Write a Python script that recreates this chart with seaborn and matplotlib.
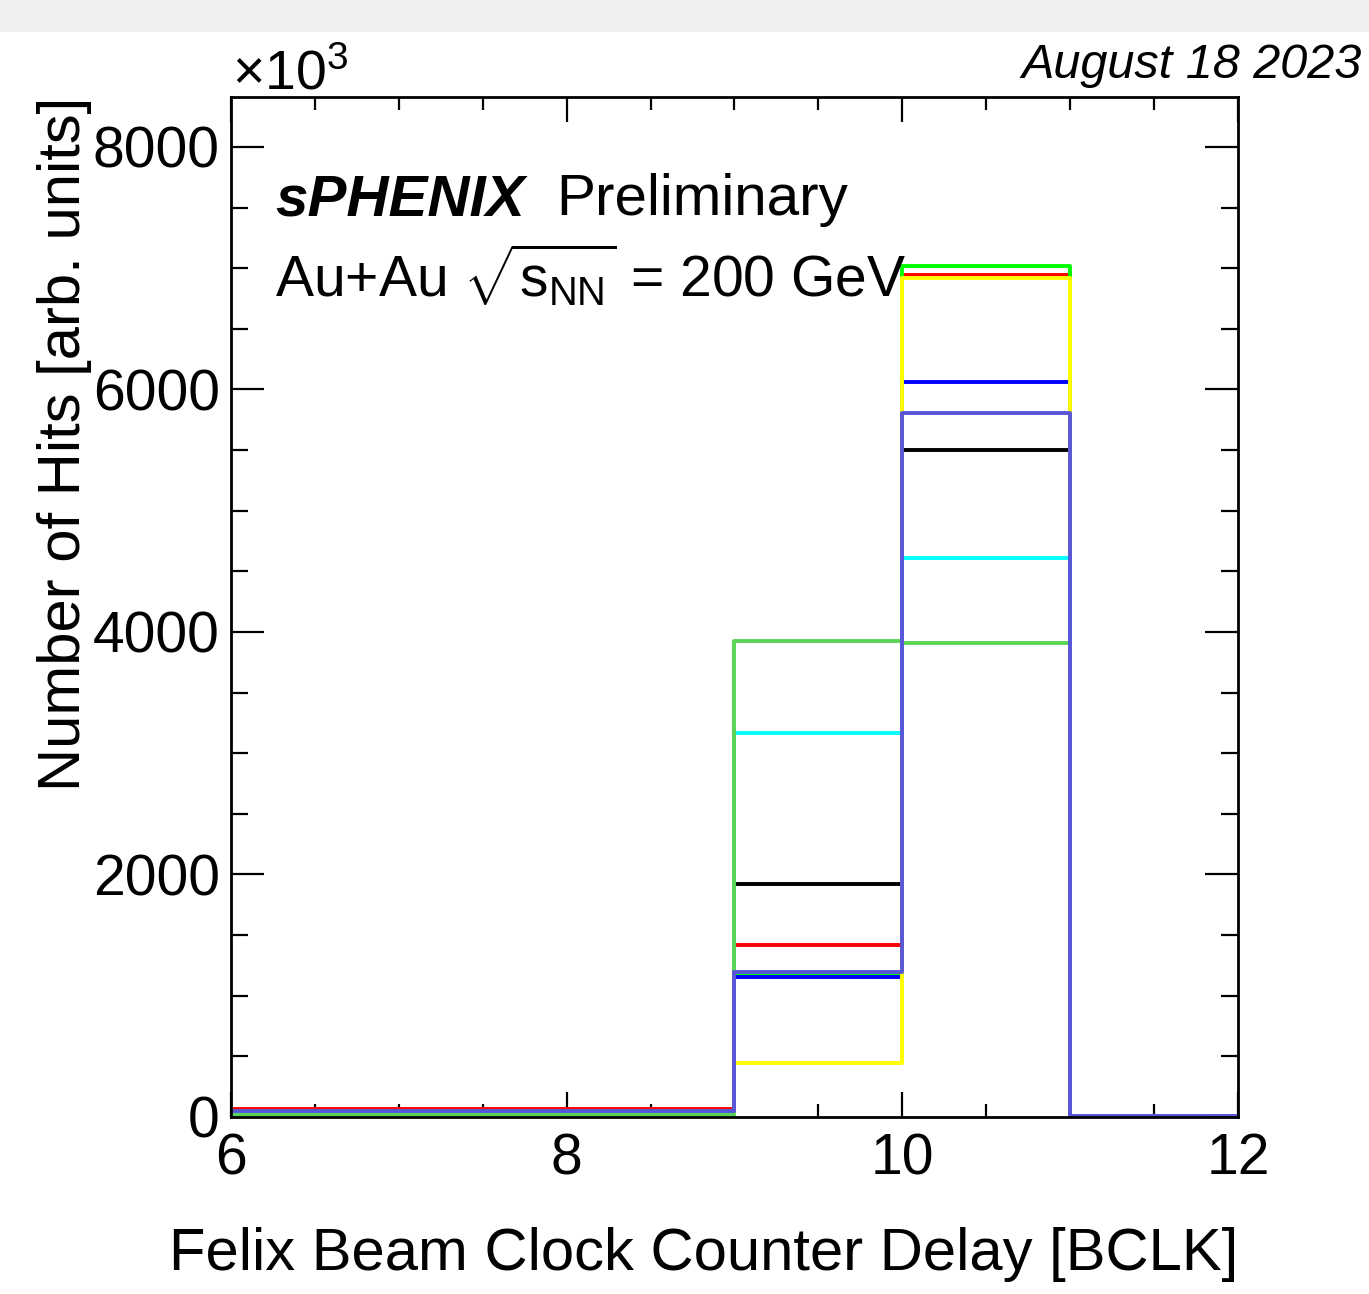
import numpy as np
import pandas as pd
import matplotlib
matplotlib.use("Agg")
import matplotlib.pyplot as plt
from matplotlib.patches import Rectangle
from matplotlib.ticker import MultipleLocator
import seaborn as sns

# ---- data (values in units of 10^3 hits) ----
bin_edges = [6, 7, 8, 9, 10, 11, 12]
series_names = ["black", "red", "green", "blue", "yellow", "cyan", "lightgreen", "slateblue"]
series_colors = ["#000000", "#ff0000", "#00ff00", "#0000ff", "#ffff00", "#00ffff", "#59d454", "#5954d8"]
hits_black      = [50, 50, 50, 1922, 5501, 5]
hits_red        = [70, 70, 70, 1418, 6944, 5]
hits_green      = [50, 50, 50, 1180, 7018, 5]
hits_blue       = [45, 45, 45, 1157, 6060, 5]
hits_yellow     = [25, 25, 25, 448, 6917, 5]
hits_cyan       = [40, 40, 40, 3167, 4610, 5]
hits_lightgreen = [20, 20, 20, 3926, 3912, 5]
hits_slateblue  = [50, 50, 50, 1196, 5809, 5]
all_hits = [hits_black, hits_red, hits_green, hits_blue, hits_yellow,
            hits_cyan, hits_lightgreen, hits_slateblue]

sns.set_theme(style="ticks")
plt.rcParams["font.family"] = ["Liberation Sans", "DejaVu Sans"]
plt.rcParams["mathtext.fontset"] = "custom"
plt.rcParams["mathtext.rm"] = "Liberation Sans"
plt.rcParams["mathtext.it"] = "Liberation Sans:italic"
plt.rcParams["mathtext.bf"] = "Liberation Sans:bold"
plt.rcParams["text.color"] = "black"
plt.rcParams["axes.labelcolor"] = "black"
plt.rcParams["xtick.color"] = "black"
plt.rcParams["ytick.color"] = "black"

W, H = 1369, 1294
fig = plt.figure(figsize=(W / 100, H / 100), dpi=100)
fig.patch.set_facecolor("white")
# light grey band at the very top (screenshot header)
fig.patches.append(Rectangle((0, 1 - 32 / H), 1, 32 / H, transform=fig.transFigure,
                             facecolor="#efefef", edgecolor="none", zorder=0))

ax = fig.add_axes([231 / W, 1 - 1117 / H, (1238 - 231) / W, (1117 - 97) / H])

centers = [(a + b) / 2 for a, b in zip(bin_edges[:-1], bin_edges[1:])]
for name, col, vals in zip(series_names, series_colors, all_hits):
    df = pd.DataFrame({"delay": centers, "hits": vals})
    sns.histplot(data=df, x="delay", weights="hits", bins=bin_edges,
                 element="step", fill=False, color=col, linewidth=2.8,
                 ax=ax)

ax.set_xlim(6, 12)
ax.set_ylim(0, 8412)
ax.xaxis.set_major_locator(MultipleLocator(2))
ax.xaxis.set_minor_locator(MultipleLocator(0.5))
ax.yaxis.set_major_locator(MultipleLocator(2000))
ax.yaxis.set_minor_locator(MultipleLocator(500))

for s in ax.spines.values():
    s.set_linewidth(2.0)
    s.set_color("black")
ax.tick_params(axis="both", which="both", direction="in", top=True, right=True,
               width=1.6, colors="black")
ax.tick_params(axis="y", which="major", length=24, labelsize=41, pad=8)
ax.tick_params(axis="y", which="minor", length=12)
ax.tick_params(axis="x", which="major", length=18, labelsize=41, pad=11)
ax.tick_params(axis="x", which="minor", length=9.5)

ax.set_xlabel("Felix Beam Clock Counter Delay [BCLK]", fontsize=43, loc="right")
ax.xaxis.set_label_coords(1.0, -0.108)
ax.set_ylabel("Number of Hits [arb. units]", fontsize=43, loc="top")
ax.yaxis.set_label_coords(-0.138, 1.0)

def px(x, y):
    return x / W, 1 - y / H

fig.text(*px(232, 90), r"$\times$10$^{3}$", fontsize=40, ha="left", va="baseline")
fig.text(*px(1362, 78), "August 18 2023", fontsize=35, style="italic",
         ha="right", va="baseline")
fig.text(*px(275, 215), "sPHENIX", fontsize=42, style="italic", weight="bold",
         ha="left", va="baseline")
fig.text(*px(556, 215), "Preliminary", fontsize=42, ha="left", va="baseline")
fig.text(*px(275, 297), r"Au+Au $\sqrt{\mathrm{s}_{\mathrm{NN}}}$ = 200 GeV", fontsize=41,
         ha="left", va="baseline")

fig.savefig("out.png", dpi=100)
